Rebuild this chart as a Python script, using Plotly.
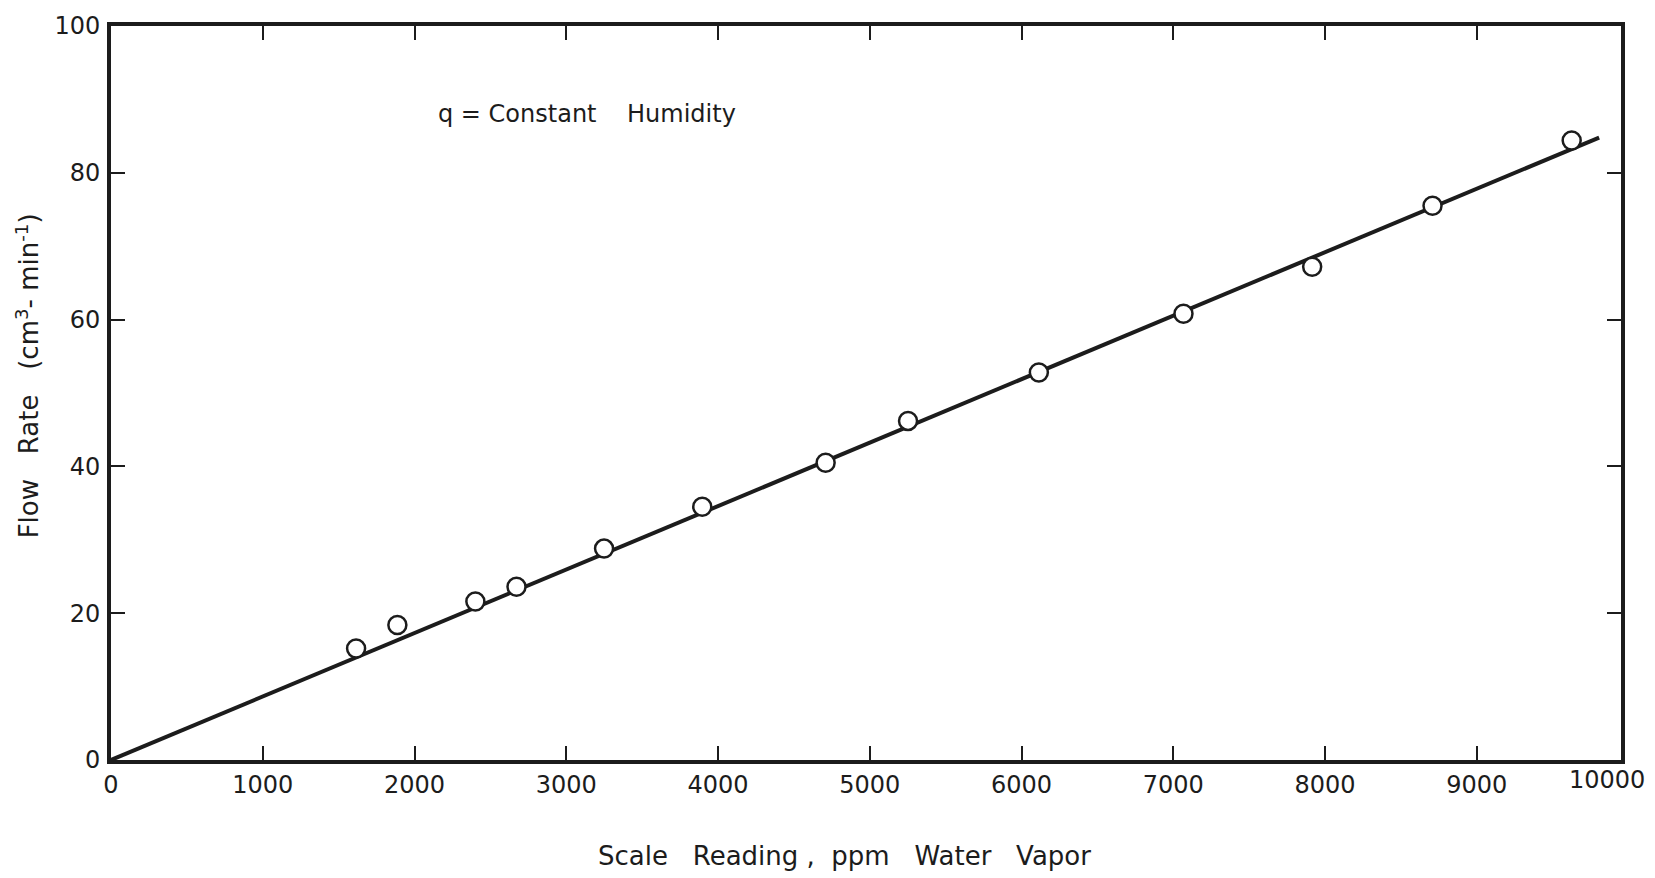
import plotly.graph_objects as go

# Calibration readings: scale reading (ppm water vapor) vs. flow rate (cm^3/min)
scale_reading = [1615, 1887, 2401, 2672, 3249, 3896, 4709, 5252, 6114, 7067, 7915, 8708, 9625]
flow_rate = [15.2, 18.4, 21.6, 23.6, 28.8, 34.5, 40.5, 46.2, 52.8, 60.8, 67.2, 75.5, 84.4]

# Fitted calibration line through the origin
fit_x = [0, 9806]
fit_y = [0, 84.8]

x_ticks = [0, 1000, 2000, 3000, 4000, 5000, 6000, 7000, 8000, 9000]
x_end_label = "10000"
y_ticks = [0, 20, 40, 60, 80, 100]

FONT = "DejaVu Sans"
INK = "#1c1c1c"

fig = go.Figure()

fig.add_trace(go.Scatter(
    x=fit_x, y=fit_y, mode="lines",
    line=dict(color=INK, width=4),
    hoverinfo="skip", showlegend=False,
))

fig.add_trace(go.Scatter(
    x=scale_reading, y=flow_rate, mode="markers",
    marker=dict(symbol="circle", size=18, color="white",
                line=dict(color=INK, width=2.5)),
    showlegend=False,
))

axis_common = dict(
    showgrid=False, zeroline=False,
    showline=True, linecolor=INK, linewidth=4, mirror="allticks",
    ticks="inside", ticklen=14, tickwidth=2, tickcolor=INK,
    tickfont=dict(family=FONT, size=24, color=INK),
)

fig.update_layout(
    width=1655, height=878,
    margin=dict(l=111, r=34, t=20, b=118),
    paper_bgcolor="white", plot_bgcolor="white",
    xaxis=dict(range=[0, 9950], tickvals=x_ticks,
               ticktext=[str(v) for v in x_ticks], **axis_common),
    yaxis=dict(range=[0, 100], tickvals=y_ticks,
               ticktext=[str(v) for v in y_ticks], ticklabelstandoff=2,
               **axis_common),
)

# Label at the right-hand end of the scale axis
fig.add_annotation(
    x=1.0, y=0, xref="paper", yref="paper",
    text=x_end_label, showarrow=False,
    xanchor="center", yanchor="top", xshift=-14, yshift=-4,
    font=dict(family=FONT, size=24, color=INK),
)

fig.add_annotation(
    x=0.486, y=-0.131, xref="paper", yref="paper",
    text="Scale   Reading ,  ppm   Water   Vapor", showarrow=False,
    xanchor="center", yanchor="middle",
    font=dict(family=FONT, size=26, color=INK),
)

fig.add_annotation(
    x=-0.055, y=0.524, xref="paper", yref="paper",
    text="Flow   Rate   (cm<sup>3</sup>- min<sup>-1</sup>)", showarrow=False,
    textangle=-90, xanchor="center", yanchor="middle",
    font=dict(family=FONT, size=26, color=INK),
)

fig.add_annotation(
    x=0.2152, y=0.880, xref="paper", yref="paper",
    text="q = Constant    Humidity", showarrow=False,
    xanchor="left", yanchor="middle",
    font=dict(family=FONT, size=24, color=INK),
)

fig.write_html("out.html")
